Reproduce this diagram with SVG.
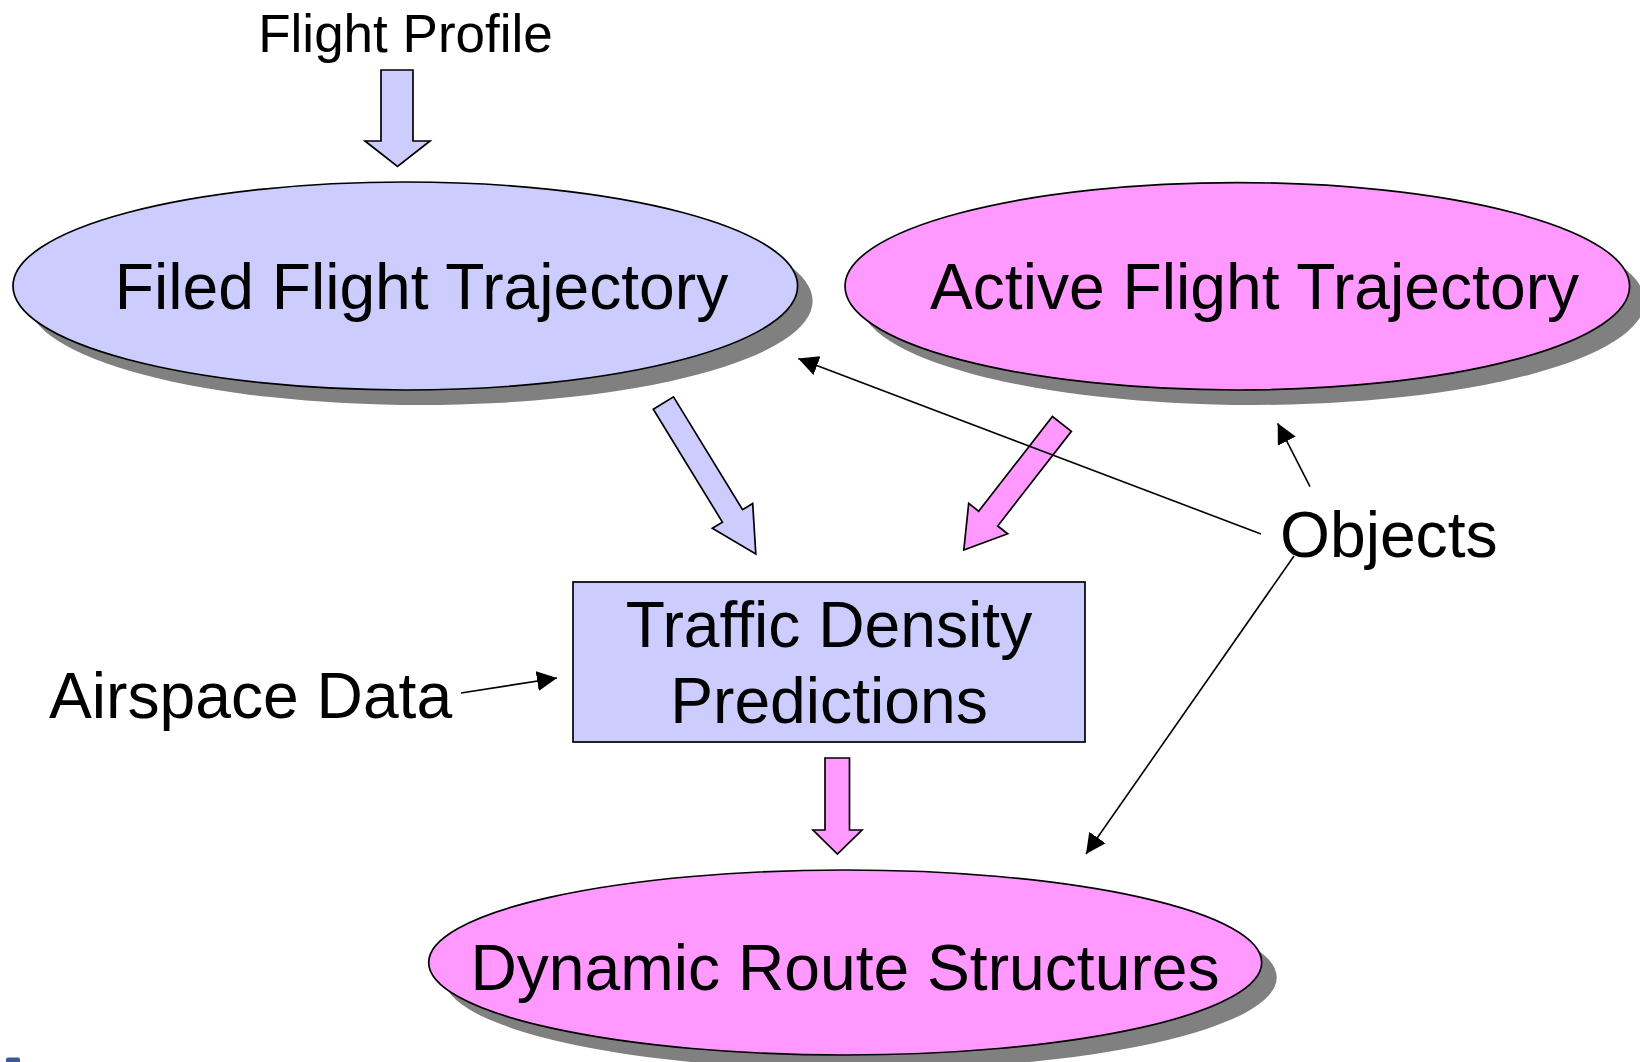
<svg xmlns="http://www.w3.org/2000/svg" width="1640" height="1062" viewBox="0 0 1640 1062">
  <defs>
    <style>
      .lbl { font-family: "Liberation Sans", Arial, sans-serif; fill: #000; }
      .big { font-size: 64.2px; }
      .small { font-size: 53px; }
      .blue { fill: #CCCCFF; stroke: #000; stroke-width: 1.7; }
      .pink { fill: #FF99FF; stroke: #000; stroke-width: 1.7; }
      .shadow { fill: #808080; }
      .wire { fill: none; stroke: #000; stroke-width: 1.6; }
    </style>
    <marker id="head" viewBox="0 0 20 20" refX="20" refY="10" markerWidth="20" markerHeight="20" markerUnits="userSpaceOnUse" orient="auto">
      <path d="M0,0 L20,10 L0,20 Z" fill="#000"/>
    </marker>
  </defs>

  <rect width="1640" height="1062" fill="#fff"/>

  <!-- input label -->
  <g id="flight-profile">
    <text class="lbl small" x="405.5" y="52" text-anchor="middle">Flight Profile</text>
  </g>

  <g id="filed-flight-trajectory">
    <ellipse class="shadow" cx="420.3" cy="301" rx="392.3" ry="104"/>
    <ellipse class="blue" cx="405.3" cy="286" rx="392.3" ry="104"/>
    <text class="lbl big" x="421.5" y="309" text-anchor="middle">Filed Flight Trajectory</text>
  </g>

  <g id="active-flight-trajectory">
    <ellipse class="shadow" cx="1252.3" cy="301.3" rx="392.3" ry="103.7"/>
    <ellipse class="pink" cx="1237.3" cy="286.3" rx="392.3" ry="103.7"/>
    <text class="lbl big" x="1254.5" y="309" text-anchor="middle">Active Flight Trajectory</text>
  </g>

  <g id="traffic-density-predictions">
    <rect class="blue" x="573" y="582" width="512" height="160"/>
    <text class="lbl big" x="829" y="647" text-anchor="middle">Traffic Density</text>
    <text class="lbl big" x="829" y="723" text-anchor="middle">Predictions</text>
  </g>

  <g id="dynamic-route-structures">
    <ellipse class="shadow" cx="860.2" cy="977.5" rx="416.5" ry="92.5"/>
    <ellipse class="pink" cx="845.2" cy="962.5" rx="416.5" ry="92.5"/>
    <text class="lbl big" x="845" y="990" text-anchor="middle">Dynamic Route Structures</text>
  </g>

  <g id="airspace-data">
    <text class="lbl big" x="49" y="718">Airspace Data</text>
  </g>

  <g id="objects">
    <text class="lbl big" x="1280" y="557">Objects</text>
  </g>

  <g id="connectors">
    <!-- block arrows -->
    <polygon class="blue" points="381,70 413,70 413,141 430,141 397.5,166.5 365,141 381,141"/>
    <polygon class="blue" points="653.3,409.2 673.5,396.8 742.6,509.7 752.7,503.5 755.8,554 712.3,528.3 722.4,522.1"/>
    <polygon class="pink" points="1052.4,416.5 1071.4,431.3 997.7,526 1007.7,533.8 963.8,550 968.7,503.4 978.7,511.2"/>
    <polygon class="pink" points="825,758 849.5,758 849.5,830 862,830 837.4,854 813,830 825,830"/>
    <!-- thin arrows -->
    <line class="wire" x1="1261" y1="534" x2="798.3" y2="358.5" marker-end="url(#head)"/>
    <line class="wire" x1="1310" y1="486.7" x2="1277.7" y2="423.3" marker-end="url(#head)"/>
    <line class="wire" x1="1294" y1="556" x2="1086" y2="854" marker-end="url(#head)"/>
    <line class="wire" x1="461" y1="693" x2="557" y2="678" marker-end="url(#head)"/>
  </g>

  <!-- clipped corner mark -->
  <rect x="6" y="1057.5" width="14" height="6" rx="2" fill="#3A5A9A"/>
</svg>
